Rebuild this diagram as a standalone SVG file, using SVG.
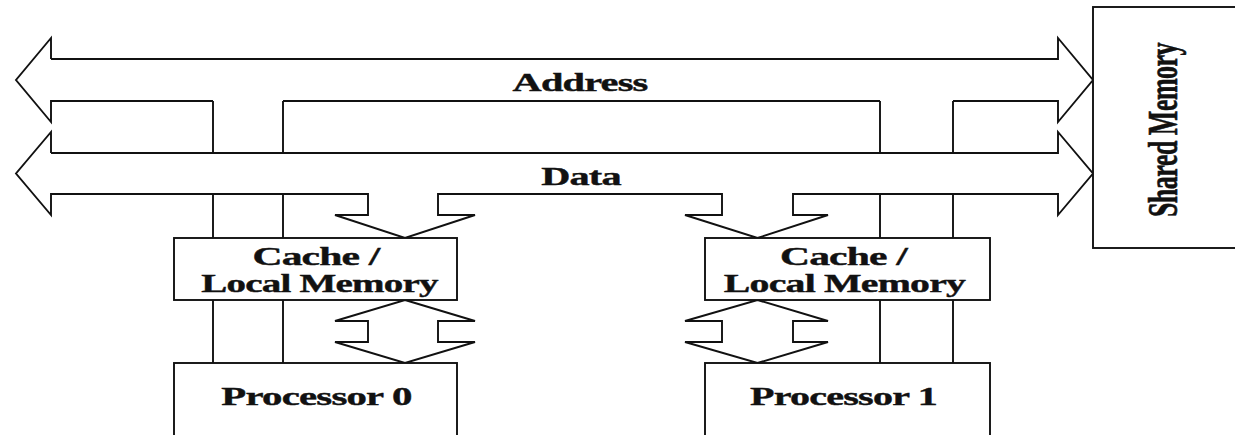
<svg xmlns="http://www.w3.org/2000/svg" width="1235" height="435" viewBox="0 0 1235 435">
  <style>
    .ln { fill: none; stroke: #111; stroke-width: 1.9; stroke-linejoin: miter; }
    .bx { fill: #fff; stroke: #111; stroke-width: 1.9; }
    .lbl { font-family: "Liberation Serif", "Times New Roman", serif; font-weight: bold; font-size: 26px; fill: #111; stroke: #111; stroke-width: 0.4; text-anchor: middle; letter-spacing: -0.5px; }
  </style>
  <rect width="1235" height="435" fill="#fff"/>

  <!-- bus wiring and block arrows -->
  <g id="connectors">
    <!-- Address bus (double-headed) -->
    <path class="ln" d="M51,59 H1058 V38 L1093,80 L1058,122 V101 H953 M880,101 H283 M213,101 H51 V122 L16,80 L51,38 V59"/>
    <!-- Data bus (double-headed) with taps to the caches -->
    <path class="ln" d="M51,153 H1058 V132 L1093,173.5 L1058,215 V194 H793 V215 H828 L757.5,238 L685,215 H722 V194 H438 V215 H475 L405,238 L335,215 H368 V194 H51 V215 L16,173.5 L51,132 V153"/>
    <!-- Address taps between the two buses -->
    <path class="ln" d="M213,101 V153 M283,101 V153 M880,101 V153 M953,101 V153"/>
    <!-- Address lines from data bus down to caches and processors -->
    <path class="ln" d="M213,194 V238 M283,194 V238 M213,300 V363 M283,300 V363"/>
    <path class="ln" d="M880,194 V238 M953,194 V238 M880,300 V363 M953,300 V363"/>
    <!-- Cache / processor double arrows -->
    <path class="ln" d="M405,300 L475,321 H438 V342 H475 L405,363 L335,342 H368 V321 H335 Z"/>
    <path class="ln" d="M757.5,300 L828,321 H793 V342 H828 L757.5,363 L685,342 H722 V321 H685 Z"/>
  </g>

  <g id="address-label">
    <text class="lbl" transform="translate(580,91) scale(1.55,1)">Address</text>
  </g>
  <g id="data-label">
    <text class="lbl" transform="translate(581,185) scale(1.55,1)">Data</text>
  </g>

  <g id="shared-memory">
    <rect class="bx" x="1093" y="7" width="160" height="241"/>
    <text class="lbl" transform="translate(1177,130) scale(1.6,1) rotate(-90)" font-size="22">Shared Memory</text>
  </g>

  <g id="cache-0">
    <rect class="bx" x="174" y="238" width="283" height="62"/>
    <text class="lbl" transform="translate(316,265) scale(1.6,1)">Cache /</text>
    <text class="lbl" transform="translate(319.5,292) scale(1.5,1)">Local Memory</text>
  </g>

  <g id="processor-0">
    <rect class="bx" x="174" y="363" width="283" height="90"/>
    <text class="lbl" transform="translate(316.5,405) scale(1.57,1)">Processor 0</text>
  </g>

  <g id="cache-1">
    <rect class="bx" x="705" y="238" width="285" height="62"/>
    <text class="lbl" transform="translate(843.5,265) scale(1.6,1)">Cache /</text>
    <text class="lbl" transform="translate(844.5,292) scale(1.53,1)">Local Memory</text>
  </g>

  <g id="processor-1">
    <rect class="bx" x="705" y="363" width="285" height="90"/>
    <text class="lbl" transform="translate(843.5,405) scale(1.54,1)">Processor 1</text>
  </g>
</svg>
